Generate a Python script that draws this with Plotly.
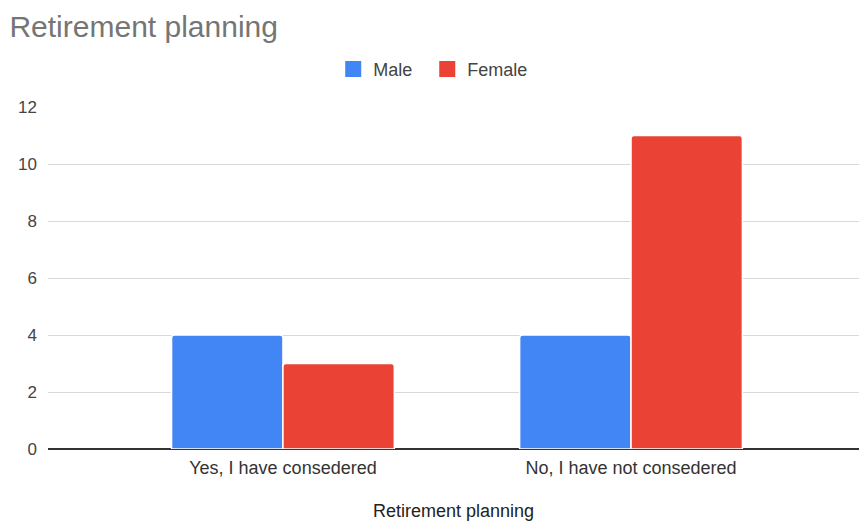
import plotly.graph_objects as go

categories = ["Yes, I have consedered", "No, I have not consedered"]
male = [4, 4]
female = [3, 11]
y_ticks = [0, 2, 4, 6, 8, 10, 12]

FONT = "Liberation Sans, Arial, sans-serif"
BLUE = "#4285F4"
RED = "#EA4335"

fig = go.Figure()
fig.add_trace(go.Bar(name="Male", x=categories, y=male, showlegend=False,
                     marker=dict(color=BLUE, line=dict(color="white", width=1.5), cornerradius=3)))
fig.add_trace(go.Bar(name="Female", x=categories, y=female, showlegend=False,
                     marker=dict(color=RED, line=dict(color="white", width=1.5), cornerradius=3)))
# legend-only entries with larger square swatches
for name, col in [("Male&nbsp;&nbsp;", BLUE), ("Female", RED)]:
    fig.add_trace(go.Scatter(name=name, x=[None], y=[None], mode="markers",
                             marker=dict(symbol="square", size=17, color=col)))

fig.update_layout(
    width=859, height=521,
    margin=dict(l=48, r=0, t=107, b=72),
    paper_bgcolor="white", plot_bgcolor="white",
    font=dict(family=FONT, size=17, color="#444444"),
    title=dict(text="Retirement planning", x=0.011, xanchor="left", y=0.95, yanchor="middle",
               font=dict(size=30, color="#757575", family=FONT)),
    barmode="group", bargap=0.36, bargroupgap=0.0,
    legend=dict(orientation="h", x=0.475, xanchor="center", y=1.11, yanchor="middle",
                font=dict(size=18, color="#444444"), itemwidth=30, traceorder="normal",
                itemsizing="trace"),
    showlegend=True,
)
fig.update_xaxes(type="category", range=[-0.675, 1.655], showgrid=False,
                 tickfont=dict(size=18, color="#333333"), ticks="", showline=False,
                 ticklabelstandoff=6,
                 title=dict(text="Retirement planning", font=dict(size=18, color="#222222"), standoff=27))
fig.update_yaxes(range=[0, 12], tickvals=y_ticks, showgrid=True, gridcolor="#d9d9d9", gridwidth=1,
                 zeroline=True, zerolinecolor="#333333", zerolinewidth=1.5,
                 tickfont=dict(size=17, color="#444444"), ticks="", ticklabelstandoff=10)

fig.write_html("out.html")
